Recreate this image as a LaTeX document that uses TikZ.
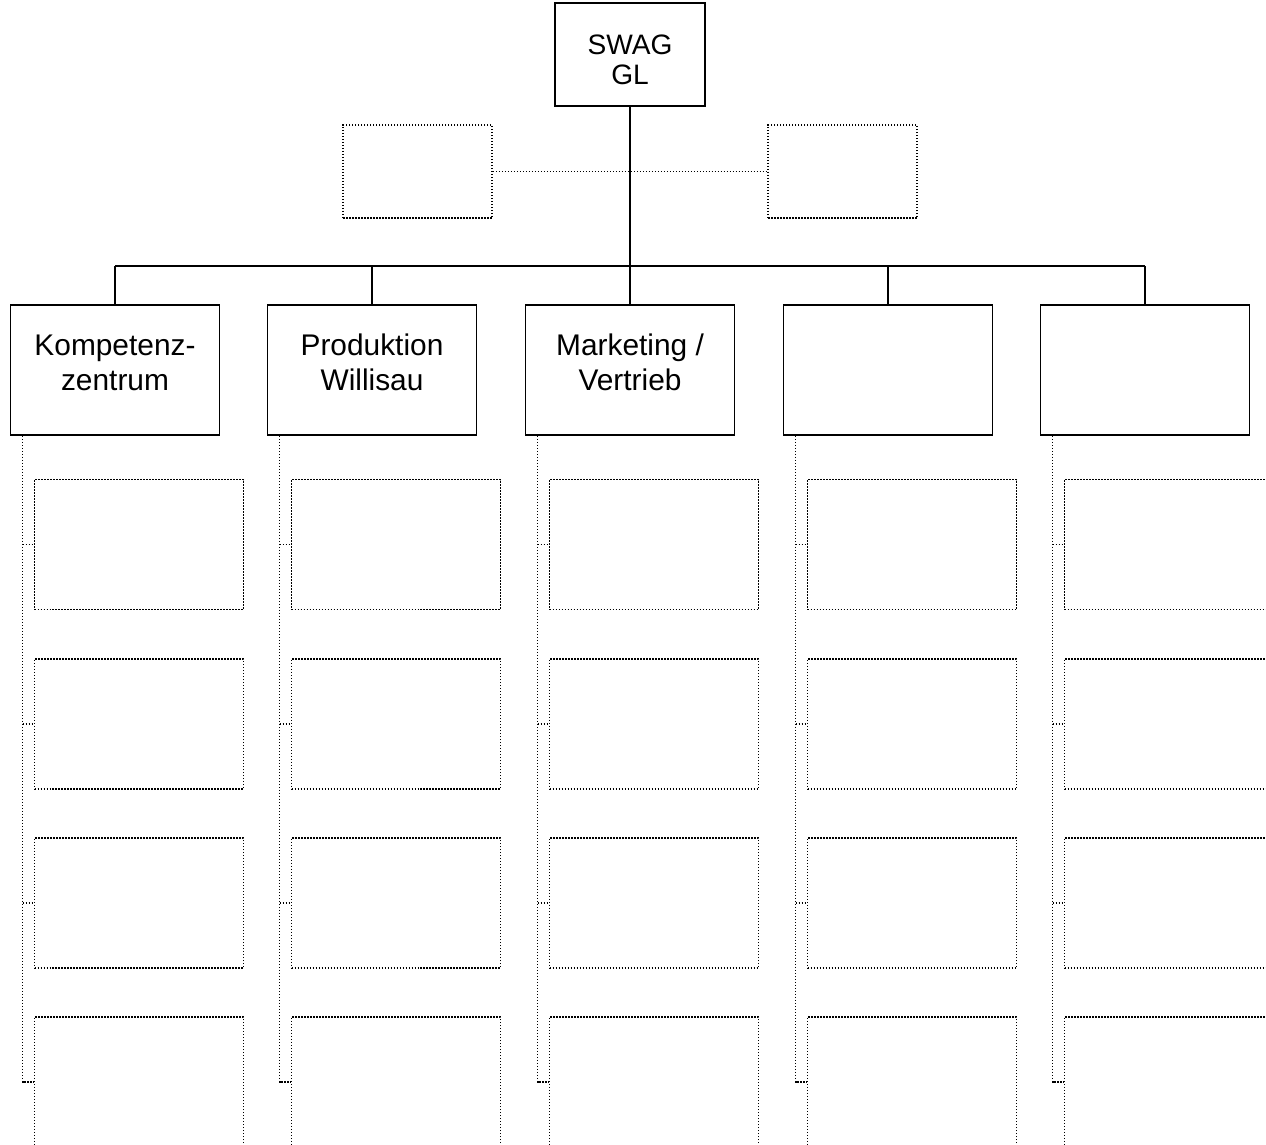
\documentclass[tikz,border=0pt]{standalone}
\usepackage{fontspec}
\setmainfont{Liberation Sans}
\usetikzlibrary{positioning, calc}
\tikzset{
	link/.style={line width=1.1pt},
	dotline/.style={line width=0.03cm, dash pattern=on 0.03cm off 0.03cm},
	head/.style={rectangle, draw=black, line width=1.1pt, minimum width=3.0cm, minimum height=2.06cm, inner sep=0pt},
	headtext/.style={align=center, inner sep=0pt, font=\fontsize{16}{17}\selectfont},
	unit/.style={rectangle, draw=black, line width=1.1pt, minimum width=4.18cm, minimum height=2.6cm, inner sep=0pt},
	unittext/.style={align=center, inner sep=0pt, font=\fontsize{17}{19.9}\selectfont},
	staff/.style={rectangle, draw=black, dotline, minimum width=2.98cm, minimum height=1.86cm},
	subunit/.style={rectangle, draw=black, dotline, minimum width=4.18cm, minimum height=2.6cm}
}
\begin{document}
\begin{tikzpicture}
	\path[use as bounding box, clip] (0,0) rectangle (25.32,-22.88);
	\node (gl) [head, label={[headtext, yshift=-0.11cm]center:{SWAG\\GL}}] at (12.6,-1.09) {};
	\node (stabL) [staff] at (8.35,-3.43) {};
	\node (stabR) [staff] at (16.85,-3.43) {};
	\coordinate (bus) at (12.6,-5.32);
	
	% Stabsstellen
	\draw [dotline] (stabL) -- (stabR);
	\draw [link] (gl.south) -- (bus);
	
	% Bereiche
	\foreach \i/\x/\txt in {1/2.30/{Kompetenz-\\zentrum}, 2/7.44/{Produktion\\Willisau}, 3/12.60/{Marketing /\\Vertrieb}, 4/17.76/{}, 5/22.90/{}} {
		\node (b\i) [unit, label={[unittext, yshift=0.15cm]center:{\txt}}] at (\x,-7.4) {};
		\draw [link] (b\i.north |- bus) -- (b\i.north);
		% Abteilungen
		\foreach \r/\y in {1/-10.89, 2/-14.48, 3/-18.06, 4/-21.64} {
			\node (b\i s\r) [subunit] at (\x+0.48,\y) {};
		}
		\coordinate (v\i) at ($(b\i.south west)+(0.26,0)$);
		\draw [dotline] (v\i) |- (b\i s4.west);
		\foreach \r in {1,2,3} {
			\draw [dotline] (v\i |- b\i s\r.west) -- (b\i s\r.west);
		}
	}
	\draw [link] (b1.north |- bus) -- (b5.north |- bus);
\end{tikzpicture}
\end{document}
